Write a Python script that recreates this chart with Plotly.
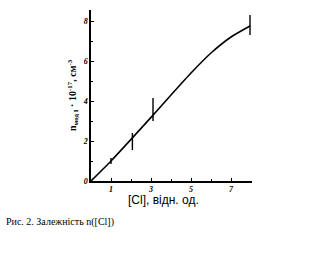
import plotly.graph_objects as go

# smooth curve
curve_x = [0, 1, 2, 3, 4, 5, 6, 7, 7.95]
curve_y = [0, 1.0, 2.08, 3.18, 4.3, 5.4, 6.4, 7.2, 7.75]

# measured points with error bars
pts_x = [1.0, 2.07, 3.1, 7.95]
pts_y = [1.0, 2.05, 3.2, 7.75]
err_plus = [0.15, 0.35, 0.95, 0.55]
err_minus = [0.15, 0.5, 0.2, 0.45]

x_ticks = [1, 3, 5, 7]
y_ticks = [0, 2, 4, 6, 8]

fig = go.Figure()
fig.add_trace(go.Scatter(x=curve_x, y=curve_y, mode="lines",
                         line=dict(color="black", width=1.6, shape="spline", smoothing=0.6),
                         showlegend=False, hoverinfo="skip"))
fig.add_trace(go.Scatter(x=pts_x, y=pts_y, mode="markers", marker=dict(size=1, color="black"),
                         error_y=dict(type="data", symmetric=False, array=err_plus, arrayminus=err_minus,
                                      color="black", thickness=1.4, width=0),
                         showlegend=False))

tickfont = dict(family="Liberation Serif", size=8, color="black", weight="bold", style="italic")
fig.update_layout(
    width=327, height=263,
    margin=dict(l=91, r=75, t=10, b=82),
    paper_bgcolor="white", plot_bgcolor="white",
    xaxis=dict(range=[0, 8.05], tickvals=x_ticks, ticks="inside", ticklen=3, tickcolor="black",
               showline=True, linecolor="black", linewidth=1.5, showgrid=False, zeroline=False,
               tickfont=tickfont, minor=dict(dtick=1, tick0=0, ticks="inside", ticklen=2, tickcolor="black")),
    yaxis=dict(range=[0, 8.55], tickvals=y_ticks, ticks="inside", ticklen=3, tickcolor="black",
               showline=True, linecolor="black", linewidth=1.5, showgrid=False, zeroline=False,
               tickfont=tickfont, minor=dict(dtick=1, tick0=0, ticks="inside", ticklen=2, tickcolor="black")),
    annotations=[
        dict(text="<b>n<sub>мод I</sub> · 10<sup>-17</sup>, см<sup>-3</sup></b>", textangle=-90,
             x=64, y=95, xref="paper", yref="paper", showarrow=False,
             font=dict(family="Liberation Serif", size=10, color="black")),
        dict(text="[Cl], відн. од.", x=163, y=209, showarrow=False,
             font=dict(family="Liberation Sans", size=12, color="black")),
        dict(text="Рис. 2. Залежність n([Cl])", x=4, y=230, xanchor="left", showarrow=False,
             font=dict(family="Liberation Sans Narrow, Liberation Serif", size=10, color="black")),
    ],
)

# convert pixel-positioned annotations to paper coords
pw = 327 - 91 - 75
ph = 263 - 10 - 82
for a in fig.layout.annotations:
    px, py = a.x, a.y
    a.x = (px - 91) / pw
    a.y = (263 - 82 - py) / ph
    a.xref = "paper"
    a.yref = "paper"

fig.write_html("out.html")
